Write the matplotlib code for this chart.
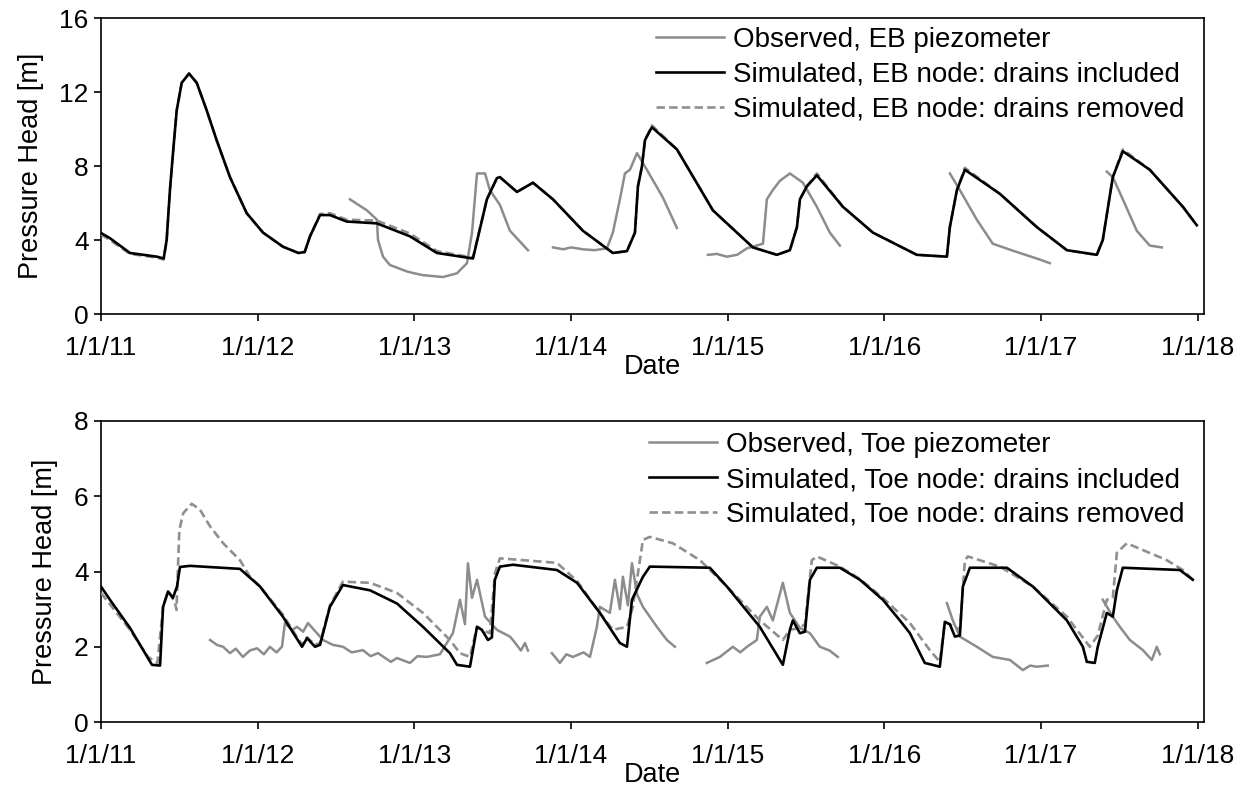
import numpy as np
import matplotlib
matplotlib.use('Agg')
import matplotlib.pyplot as plt

plt.rcParams['font.family'] = ['Liberation Sans', 'DejaVu Sans']

nan = np.nan

# ---- top panel: EB (decimal years, pressure head in m)
eb_sim_t = [2011.000, 2011.057, 2011.185, 2011.357, 2011.400, 2011.419, 2011.440, 2011.461,
            2011.483, 2011.515, 2011.562, 2011.611, 2011.675, 2011.738, 2011.823, 2011.930,
            2012.034, 2012.161, 2012.260, 2012.300, 2012.334, 2012.398, 2012.461, 2012.568,
            2012.761, 2012.972, 2013.144, 2013.374,
            2013.463, 2013.527, 2013.546, 2013.655, 2013.757, 2013.885, 2014.076, 2014.267,
            2014.357, 2014.408, 2014.427, 2014.452, 2014.472, 2014.516, 2014.676, 2014.906,
            2015.161, 2015.314, 2015.397, 2015.442, 2015.461, 2015.505, 2015.569, 2015.735,
            2015.927, 2016.207, 2016.399, 2016.418, 2016.463, 2016.514, 2016.737, 2016.973,
            2017.165, 2017.356, 2017.394, 2017.458, 2017.522, 2017.694, 2017.905, 2017.994]
eb_sim = [4.38, 4.1, 3.3, 3.1, 3.0, 4.0, 6.7, 8.86,
          11.0, 12.5, 13.0, 12.5, 11.0, 9.4, 7.4, 5.45,
          4.4, 3.64, 3.3, 3.35, 4.2, 5.35, 5.35, 5.0,
          4.9, 4.2, 3.3, 3.0,
          6.2, 7.35, 7.4, 6.6, 7.1, 6.2, 4.5, 3.3,
          3.4, 4.4, 6.9, 7.95, 9.4, 10.1, 8.9, 5.6,
          3.6, 3.2, 3.45, 4.7, 6.2, 6.9, 7.5, 5.8,
          4.4, 3.2, 3.1, 4.7, 6.7, 7.8, 6.5, 4.7,
          3.45, 3.2, 4.0, 7.4, 8.8, 7.8, 5.8, 4.8]
eb_rem_t = eb_sim_t
eb_rem = [4.3, 4.0, 3.25, 3.05, 2.95, 4.0, 6.7, 8.86,
          11.0, 12.5, 13.0, 12.5, 11.0, 9.4, 7.4, 5.45,
          4.4, 3.64, 3.3, 3.35, 4.2, 5.4, 5.45, 5.1,
          5.05, 4.35, 3.4, 3.05,
          6.2, 7.35, 7.4, 6.6, 7.1, 6.2, 4.5, 3.3,
          3.4, 4.4, 6.9, 7.95, 9.4, 10.2, 8.9, 5.6,
          3.6, 3.2, 3.45, 4.7, 6.2, 6.9, 7.6, 5.8,
          4.4, 3.2, 3.1, 4.7, 6.7, 7.9, 6.5, 4.7,
          3.45, 3.2, 4.0, 7.4, 8.9, 7.8, 5.8, 4.8]
eb_obs_t = [2012.589, 2012.698, 2012.761, 2012.768, 2012.800, 2012.844, 2012.953, 2013.000,
            2013.055, 2013.120, 2013.183, 2013.272, 2013.336, 2013.368, 2013.400, 2013.451,
            2013.482, 2013.546, 2013.610, 2013.725, nan,
            2013.885, 2013.950, 2014.000, 2014.076, 2014.150, 2014.229, 2014.267, 2014.312,
            2014.344, 2014.376, 2014.421, 2014.484, 2014.586, 2014.676, nan,
            2014.874, 2014.930, 2014.995, 2015.060, 2015.123, 2015.225, 2015.250, 2015.288,
            2015.333, 2015.397, 2015.480, 2015.569, 2015.652, 2015.716, nan,
            2016.418, 2016.482, 2016.590, 2016.692, 2016.846, 2016.973, 2017.056, nan,
            2017.420, 2017.458, 2017.522, 2017.611, 2017.694, 2017.771]
eb_obs = [6.2, 5.6, 5.1, 4.0, 3.1, 2.65, 2.3, 2.2,
          2.1, 2.05, 2.0, 2.2, 2.75, 4.4, 7.6, 7.6,
          6.7, 5.9, 4.5, 3.45, nan,
          3.6, 3.5, 3.6, 3.5, 3.45, 3.55, 4.4, 6.2,
          7.6, 7.8, 8.7, 7.8, 6.3, 4.65, nan,
          3.2, 3.25, 3.1, 3.2, 3.55, 3.8, 6.2, 6.7,
          7.2, 7.6, 7.1, 5.8, 4.4, 3.7, nan,
          7.6, 6.7, 5.1, 3.8, 3.35, 3.0, 2.75, nan,
          7.7, 7.4, 6.2, 4.5, 3.7, 3.6]

# ---- bottom panel: Toe
toe_sim_t = [2011.000, 2011.057, 2011.185, 2011.281, 2011.325, 2011.377, 2011.396, 2011.428,
             2011.459, 2011.485, 2011.504, 2011.568, 2011.887, 2012.015, 2012.161, 2012.283,
             2012.315, 2012.366, 2012.398, 2012.461, 2012.544, 2012.717, 2012.889, 2013.055,
             2013.227, 2013.272, 2013.355, 2013.400, 2013.431, 2013.470, 2013.495, 2013.514,
             2013.546, 2013.629, 2013.910, 2014.038, 2014.184, 2014.312, 2014.357, 2014.389,
             2014.459, 2014.503, 2014.886, 2014.995, 2015.205, 2015.352, 2015.397, 2015.416,
             2015.461, 2015.493, 2015.525, 2015.569, 2015.716, 2015.844, 2015.990, 2016.099,
             2016.163, 2016.258, 2016.354, 2016.386, 2016.418, 2016.450, 2016.482, 2016.501,
             2016.546, 2016.782, 2016.948, 2017.165, 2017.267, 2017.292, 2017.343, 2017.362,
             2017.420, 2017.458, 2017.484, 2017.522, 2017.886, 2017.969]
toe_sim = [3.6, 3.25, 2.5, 1.83, 1.52, 1.5, 3.06, 3.47,
           3.3, 3.6, 4.12, 4.15, 4.07, 3.6, 2.8, 2.0,
           2.23, 2.0, 2.05, 3.06, 3.64, 3.5, 3.15, 2.53,
           1.83, 1.52, 1.47, 2.53, 2.45, 2.18, 2.25, 3.78,
           4.13, 4.18, 4.04, 3.7, 2.9, 2.1, 2.0, 3.25,
           3.86, 4.13, 4.1, 3.6, 2.53, 1.52, 2.45, 2.7,
           2.36, 2.4, 3.78, 4.1, 4.1, 3.78, 3.25, 2.7,
           2.36, 1.57, 1.47, 2.66, 2.6, 2.27, 2.3, 3.6,
           4.1, 4.1, 3.6, 2.7, 2.0, 1.6, 1.57, 2.0,
           2.9, 2.8, 3.5, 4.1, 4.04, 3.78]
toe_rem_t = [2011.000, 2011.185, 2011.300, 2011.360, 2011.396, 2011.428, 2011.470, 2011.482,
             2011.492, 2011.500, 2011.525, 2011.579, 2011.632, 2011.696, 2011.780, 2011.887,
             2011.951, 2012.015, 2012.161, 2012.283, 2012.315, 2012.366, 2012.398, 2012.461,
             2012.544, 2012.717, 2012.889,
             2013.055, 2013.227, 2013.291, 2013.355, 2013.400, 2013.431, 2013.482, 2013.514,
             2013.546, 2013.910, 2014.038, 2014.184, 2014.267, 2014.357, 2014.395, 2014.459,
             2014.503, 2014.650, 2014.823, 2014.995, 2015.205, 2015.352, 2015.397, 2015.461,
             2015.493, 2015.537, 2015.569, 2015.716, 2015.844, 2015.990, 2016.163, 2016.290,
             2016.354, 2016.386, 2016.482, 2016.514, 2016.533, 2016.737, 2016.948, 2017.165,
             2017.311, 2017.362, 2017.420, 2017.458, 2017.484, 2017.548, 2017.803, 2017.905,
             2017.969]
toe_rem = [3.43, 2.45, 1.73, 1.57, 3.06, 3.47, 3.2, 2.98,
           4.22, 5.1, 5.55, 5.8, 5.64, 5.2, 4.75, 4.3,
           3.86, 3.6, 2.85, 2.05, 2.25, 2.05, 2.1, 3.1,
           3.73, 3.7, 3.43,
           2.9, 2.18, 1.83, 1.73, 2.53, 2.45, 2.36, 3.95,
           4.35, 4.23, 3.75, 2.9, 2.45, 2.53, 3.06, 4.84,
           4.92, 4.75, 4.3, 3.6, 2.7, 2.18, 2.45, 2.5,
           2.6, 4.3, 4.4, 4.13, 3.8, 3.3, 2.63, 1.91,
           1.6, 2.66, 2.45, 4.3, 4.4, 4.13, 3.6, 2.8,
           2.0, 2.3, 3.25, 3.3, 4.5, 4.75, 4.3, 4.04,
           3.78]
toe_obs_t = [2011.696, 2011.740, 2011.779, 2011.823, 2011.860, 2011.906, 2011.950, 2011.996,
             2012.040, 2012.078, 2012.120, 2012.155, 2012.174, 2012.220, 2012.251, 2012.290,
             2012.321, 2012.417, 2012.480, 2012.544, 2012.600, 2012.672, 2012.720, 2012.768,
             2012.850, 2012.889, 2012.972, 2013.020, 2013.080, 2013.163, 2013.246, 2013.291,
             2013.323, 2013.342, 2013.368, 2013.400, 2013.451, 2013.527, 2013.610, 2013.629,
             2013.680, 2013.706, 2013.725, nan,
             2013.878, 2013.929, 2013.970, 2014.012, 2014.080, 2014.121, 2014.165, 2014.184,
             2014.248, 2014.280, 2014.312, 2014.331, 2014.363, 2014.389, 2014.421, 2014.459,
             2014.548, 2014.612, 2014.663, nan,
             2014.867, 2014.950, 2015.033, 2015.080, 2015.123, 2015.186, 2015.205, 2015.250,
             2015.288, 2015.352, 2015.397, 2015.461, 2015.525, 2015.588, 2015.650, 2015.703, nan,
             2016.399, 2016.437, 2016.482, 2016.590, 2016.692, 2016.801, 2016.884, 2016.930,
             2016.973, 2017.043, nan,
             2017.394, 2017.458, 2017.503, 2017.567, 2017.650, 2017.707, 2017.739, 2017.758]
toe_obs = [2.18, 2.05, 2.0, 1.83, 1.95, 1.73, 1.9, 1.96,
           1.8, 2.0, 1.85, 2.0, 2.63, 2.45, 2.53, 2.4,
           2.63, 2.18, 2.05, 2.0, 1.85, 1.91, 1.75, 1.83,
           1.6, 1.7, 1.57, 1.75, 1.73, 1.8, 2.36, 3.25,
           2.6, 4.22, 3.3, 3.78, 2.8, 2.45, 2.27, 2.18,
           1.9, 2.1, 1.9, nan,
           1.83, 1.57, 1.8, 1.73, 1.85, 1.73, 2.53, 3.06,
           2.9, 3.78, 3.0, 3.86, 3.1, 4.22, 3.4, 3.06,
           2.53, 2.18, 2.0, nan,
           1.57, 1.73, 2.0, 1.85, 2.0, 2.18, 2.8, 3.06,
           2.7, 3.7, 2.9, 2.5, 2.36, 2.0, 1.9, 1.73, nan,
           3.16, 2.7, 2.27, 2.0, 1.73, 1.65, 1.38, 1.5,
           1.47, 1.5, nan,
           3.25, 2.8, 2.53, 2.18, 1.91, 1.65, 2.0, 1.8]

year_ticks = [2011, 2012, 2013, 2014, 2015, 2016, 2017, 2018]
year_labels = ['1/1/11', '1/1/12', '1/1/13', '1/1/14', '1/1/15', '1/1/16', '1/1/17', '1/1/18']

obs_col = '#8c8c8c'
rem_col = '#8f8f8f'
fs = 19.5

fig = plt.figure(figsize=(12.47, 7.86), dpi=100)
ax1 = fig.add_axes([0.081, 0.6005, 0.8845, 0.3765])
ax2 = fig.add_axes([0.081, 0.0814, 0.8845, 0.383])


def draw(ax, t_obs, v_obs, t_sim, v_sim, t_rem, v_rem, name, ymax, ystep, leg_y):
    ax.plot(t_obs, v_obs, color=obs_col, lw=1.8, label='Observed, %s piezometer' % name, zorder=2)
    ax.plot(t_sim, v_sim, color='black', lw=1.9, label='Simulated, %s node: drains included' % name, zorder=4)
    ax.plot(t_rem, v_rem, color=rem_col, lw=1.9, ls=(0, (3.2, 1.6)),
            label='Simulated, %s node: drains removed' % name, zorder=3)
    ax.set_xlim(2011, 2018.04)
    ax.set_ylim(0, ymax)
    ax.set_yticks(np.arange(0, ymax + 0.1, ystep))
    ax.set_xticks(year_ticks)
    ax.set_xticklabels(year_labels)
    ax.tick_params(axis='x', labelsize=fs - 0.5, direction='out', length=5, width=1.2, pad=10.5)
    ax.tick_params(axis='y', labelsize=fs - 0.5, direction='out', length=5, width=1.2, pad=4)
    for s in ax.spines.values():
        s.set_linewidth(1.2)
    ax.set_ylabel('Pressure Head [m]', fontsize=fs, labelpad=11)
    ax.set_xlabel('Date', fontsize=fs, labelpad=-4)
    ax.legend(loc='upper right', frameon=False, fontsize=20, handlelength=2.45,
              handletextpad=0.32, labelspacing=0.32, borderpad=0, borderaxespad=0,
              bbox_to_anchor=(0.982, leg_y))


draw(ax1, eb_obs_t, eb_obs, eb_sim_t, eb_sim, eb_rem_t, eb_rem, 'EB', 16, 4, 0.97)
draw(ax2, toe_obs_t, toe_obs, toe_sim_t, toe_sim, toe_rem_t, toe_rem, 'Toe', 8, 2, 0.963)

fig.savefig('out.png', dpi=100)
